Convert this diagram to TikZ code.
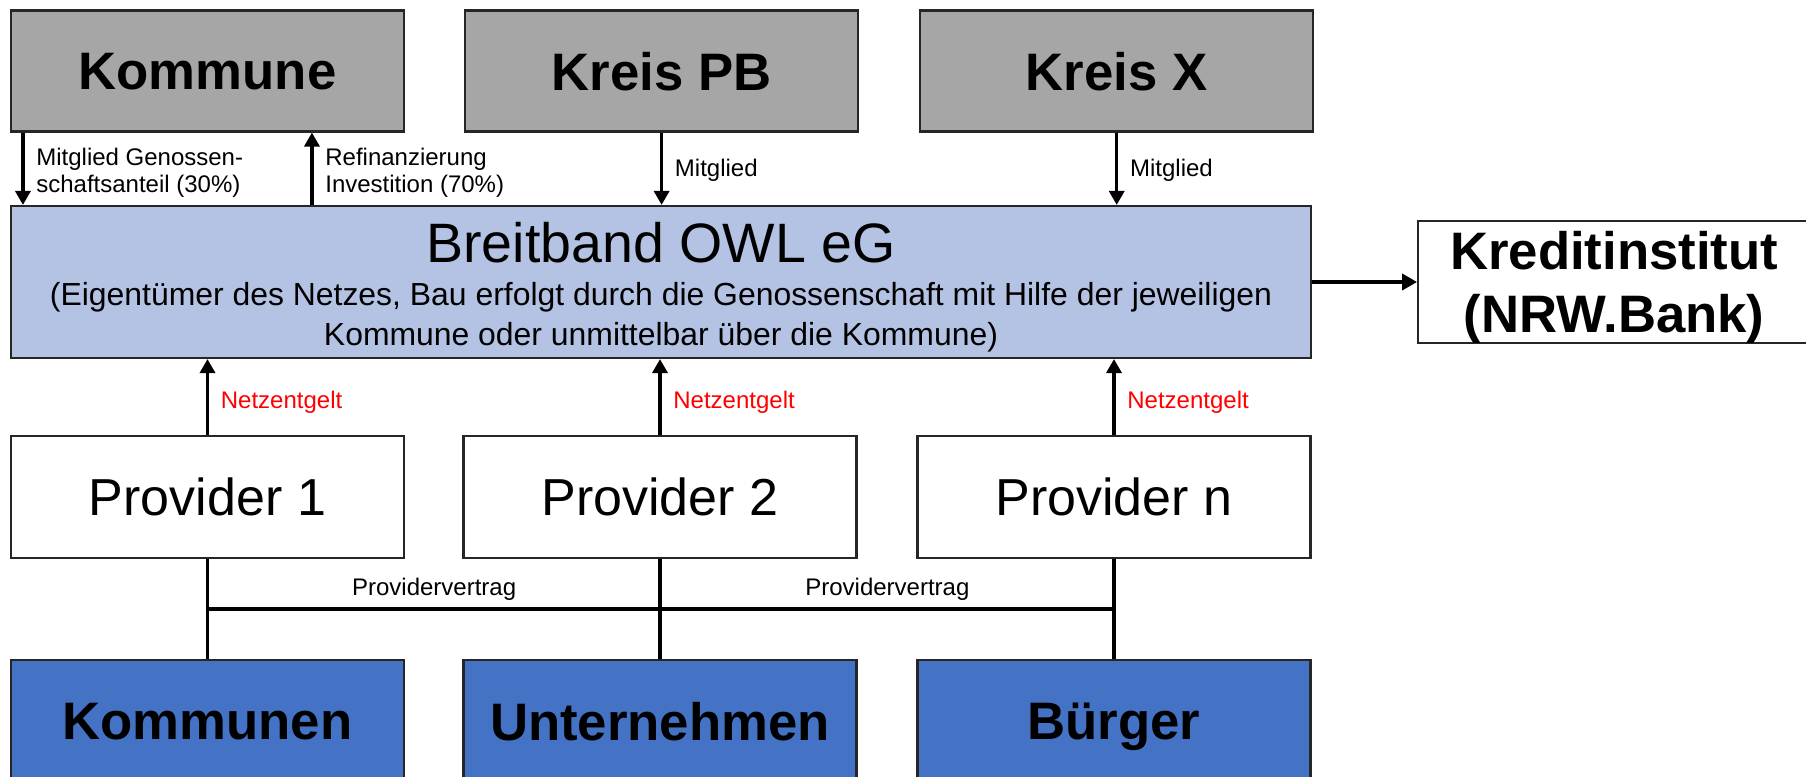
\documentclass[tikz,border=0pt]{standalone}
\usepackage{fontspec}
\setmainfont{Liberation Sans}
\usepackage{tikz}
\usepackage{xcolor}
\usetikzlibrary{positioning,calc,arrows.meta}
\definecolor{boxgrey}{HTML}{A6A6A6}
\definecolor{owlblue}{HTML}{B4C2E3}
\definecolor{userblue}{HTML}{4472C4}
\tikzset{
    grey-box/.style = {draw=black!85, fill=boxgrey, line width=0.6pt, rectangle, inner sep=0pt, minimum width=3.93cm, minimum height=1.21cm, text depth=0pt, font=\fontsize{15}{18}\selectfont\bfseries},
    owl-box/.style = {draw=black!85, fill=owlblue, line width=0.6pt, rectangle, inner sep=0pt, minimum width=13cm, minimum height=1.52cm},
    provider-box/.style = {draw=black!85, fill=white, line width=0.6pt, rectangle, inner sep=0pt, minimum width=3.93cm, minimum height=1.22cm, text depth=0pt, font=\fontsize{14.8}{18}\selectfont},
    user-box/.style = {draw=black!85, fill=userblue, line width=0.6pt, rectangle, inner sep=0pt, minimum width=3.93cm, minimum height=1.22cm, text depth=0pt, font=\fontsize{15}{18}\selectfont\bfseries},
    bank-box/.style = {draw=black!85, fill=white, line width=0.6pt, rectangle, inner sep=0pt, minimum width=3.92cm, minimum height=1.22cm, align=center, text depth=0pt, font=\fontsize{15}{17.9}\selectfont\bfseries},
    flow-arrow/.style = {line width=0.95pt, -{Triangle[length=0.14cm,width=0.15cm]}},
    bank-arrow/.style = {line width=1.15pt, -{Triangle[length=0.15cm,width=0.16cm]}},
    link-line/.style = {line width=0.95pt},
    contract-line/.style = {line width=1.15pt},
    flow-label/.style = {font=\fontsize{6.83}{7.85}\selectfont, align=left},
    fee-label/.style = {flow-label, text=red},
}

\begin{document}
\begin{tikzpicture}
\useasboundingbox (0,0) rectangle (18.06,7.76);

\node[grey-box] (kommune) at (2.075,7.05) {Kommune};
\node[grey-box, right=0.59cm of kommune] (kreispb) {Kreis PB};
\node[grey-box, right=0.6cm of kreispb] (kreisx) {Kreis X};

\node[owl-box] (owl) at (6.61,4.94) {};
\node[anchor=base, font=\fontsize{15.8}{18}\selectfont] (owltitle) at ([yshift=-0.58cm]owl.north) {Breitband OWL eG};
\node[anchor=south, align=center, inner sep=0pt, font=\fontsize{9.08}{11.4}\selectfont] (owltext) at ([yshift=0.06cm]owl.south) {(Eigentümer des Netzes, Bau erfolgt durch die Genossenschaft mit Hilfe der jeweiligen\\Kommune oder unmittelbar über die Kommune)};
\node[bank-box, right=1.05cm of owl] (kredit) {Kreditinstitut\\(NRW.Bank)};

\node[provider-box] (prov1) at (2.075,2.79) {Provider 1};
\node[provider-box] (prov2) at (6.60,2.79) {Provider 2};
\node[provider-box] (provn) at (11.14,2.79) {Provider n};

\node[user-box] (kommunen) at (2.075,0.55) {Kommunen};
\node[user-box] (firmen) at (6.60,0.55) {Unternehmen};
\node[user-box] (buerger) at (11.14,0.55) {Bürger};

\coordinate (kdown) at ([xshift=0.13cm]kommune.south west);
\coordinate (kup) at ([xshift=3.02cm]kommune.south west);
\draw[flow-arrow] (kdown) -- (kdown |- owl.north) node[flow-label, midway, right, yshift=-0.04cm] {Mitglied Genossen-\\schaftsanteil (30\%)};
\draw[flow-arrow] (kup |- owl.north) -- (kup) node[flow-label, midway, right, yshift=-0.04cm] {Refinanzierung\\Investition (70\%)};
\draw[flow-arrow] (kreispb.south) -- (kreispb.south |- owl.north) node[flow-label, midway, right, yshift=-0.02cm] {Mitglied};
\draw[flow-arrow] (kreisx.south) -- (kreisx.south |- owl.north) node[flow-label, midway, right, yshift=-0.02cm] {Mitglied};

\draw[bank-arrow] (owl.east) -- (owl.east -| kredit.west);

\draw[flow-arrow] (prov1.north) -- (prov1.north |- owl.south) node[fee-label, midway, right, yshift=-0.05cm] {Netzentgelt};
\draw[flow-arrow] (prov2.north) -- (prov2.north |- owl.south) node[fee-label, midway, right, yshift=-0.05cm] {Netzentgelt};
\draw[flow-arrow] (provn.north) -- (provn.north |- owl.south) node[fee-label, midway, right, yshift=-0.05cm] {Netzentgelt};

\coordinate (bus) at ($(prov1.south)!0.5!(kommunen.north)$);
\draw[link-line] (prov1.south) -- (kommunen.north);
\draw[link-line] (prov2.south) -- (firmen.north);
\draw[link-line] (provn.south) -- (buerger.north);
\draw[contract-line] (prov1.south |- bus) -- (provn.south |- bus)
    node[flow-label, pos=0.25, above, yshift=-0.05cm] {Providervertrag}
    node[flow-label, pos=0.75, above, yshift=-0.05cm] {Providervertrag};
\end{tikzpicture}
\end{document}
